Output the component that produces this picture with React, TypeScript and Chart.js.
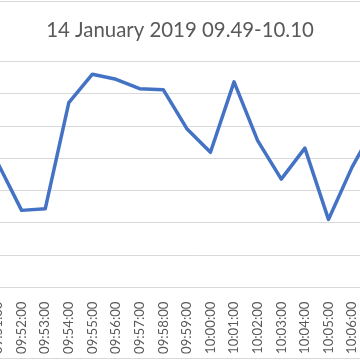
import React, { useEffect, useRef } from "react";
import { Chart, registerables } from "chart.js";

Chart.register(...registerables);

const TITLE = "14 January 2019 09.49-10.10";

const CATEGORIES = [
  "09:49:00", "09:50:00", "09:51:00", "09:52:00", "09:53:00", "09:54:00",
  "09:55:00", "09:56:00", "09:57:00", "09:58:00", "09:59:00", "10:00:00",
  "10:01:00", "10:02:00", "10:03:00", "10:04:00", "10:05:00", "10:06:00",
  "10:07:00", "10:08:00", "10:09:00", "10:10:00",
];

const VALUES: (number | null)[] = [
  null, null, 38.4, 23.9, 24.4, 57.3,
  66.1, 64.5, 61.6, 61.3, 49.2, 41.9,
  63.7, 45.5, 33.6, 43.2, 21.1, 37.3,
  50.5, null, null, null,
];

const Y_MIN = 0;
const Y_MAX = 70;
const Y_STEP = 10;

const CANVAS_W = 580;
const CANVAS_H = 360;
const OFFSET_X = -110;

const borderPlugin = {
  id: "outerBorder",
  beforeDraw(chart: any) {
    const { ctx, width, height } = chart;
    ctx.save();
    ctx.fillStyle = "#ffffff";
    ctx.fillRect(0, 0, width, height);
    ctx.strokeStyle = "#D9D9D9";
    ctx.lineWidth = 1;
    ctx.strokeRect(0.5, 1.5, width - 1, 357);
    ctx.restore();
  },
};

export default function App() {
  const ref = useRef<HTMLCanvasElement | null>(null);

  useEffect(() => {
    if (!ref.current) return;
    const chart = new Chart(ref.current, {
      type: "line",
      data: {
        labels: CATEGORIES,
        datasets: [
          {
            data: VALUES,
            borderColor: "#4472C4",
            borderWidth: 3.5,
            pointRadius: 0,
            tension: 0,
            borderJoinStyle: "round",
            borderCapStyle: "round",
            fill: false,
          },
        ],
      },
      options: {
        responsive: false,
        animation: false,
        devicePixelRatio: 1,
        layout: { padding: { left: 11.7, right: 11.7, top: 0, bottom: 0 } },
        plugins: {
          legend: { display: false },
          tooltip: { enabled: false },
          title: {
            display: true,
            text: TITLE,
            color: "#595959",
            font: { family: "Lato", size: 20.4, weight: "normal", lineHeight: 1.2 },
            padding: { top: 18.3, bottom: 18.8 },
          },
        },
        scales: {
          x: {
            offset: true,
            grid: { display: false },
            border: { display: true, color: "#D9D9D9", width: 1 },
            ticks: {
              autoSkip: false,
              minRotation: 90,
              maxRotation: 90,
              padding: 6,
              color: "#595959",
              font: { family: "Lato", size: 13.2 },
            },
          },
          y: {
            min: Y_MIN,
            max: Y_MAX,
            afterFit: (scale: any) => {
              scale.width = 37.3;
            },
            ticks: { display: false, stepSize: Y_STEP },
            grid: { color: "#D9D9D9", lineWidth: 1, drawTicks: false },
            border: { display: false },
          },
        },
      },
      plugins: [borderPlugin],
    });
    return () => chart.destroy();
  }, []);

  return (
    <div
      style={{
        position: "fixed",
        left: 0,
        top: 0,
        width: 360,
        height: 360,
        overflow: "hidden",
        background: "#fff",
      }}
    >
      <canvas
        ref={ref}
        width={CANVAS_W}
        height={CANVAS_H}
        style={{ position: "absolute", left: OFFSET_X, top: 0, width: CANVAS_W, height: CANVAS_H }}
      />
    </div>
  );
}
